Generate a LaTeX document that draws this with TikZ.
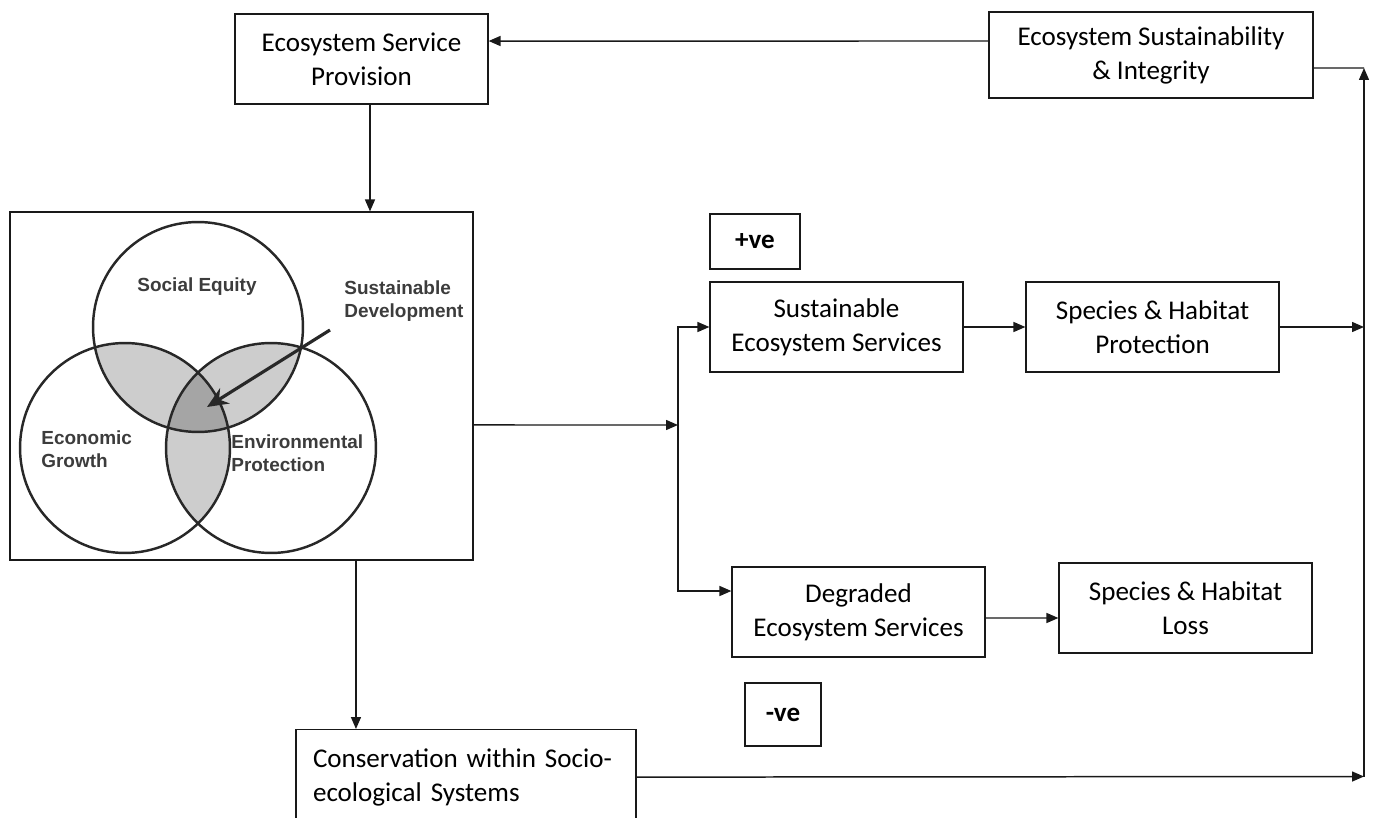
\documentclass[tikz,border=0pt]{standalone}
\usepackage{fontspec}
\setmainfont{Carlito}
\newfontfamily\vennfont{Liberation Sans}
\usetikzlibrary{positioning,arrows.meta,calc}
\definecolor{ink}{RGB}{25,25,25}
\definecolor{vennink}{RGB}{40,40,40}
\definecolor{lensgray}{RGB}{205,205,205}
\definecolor{coregray}{RGB}{165,165,165}
\definecolor{labelgray}{RGB}{60,60,60}

\begin{document}
\begin{tikzpicture}[x=0.02cm,y=-0.02cm,
  every node/.style={font=\fontsize{15.4}{19.3}\selectfont},
  block/.style={draw=ink,line width=0.7pt,fill=white,align=center,minimum width=5.06cm,minimum height=1.8cm,inner sep=0pt},
  signbox/.style={draw=ink,line width=0.7pt,inner sep=0pt,font=\fontsize{15.4}{19.3}\selectfont\bfseries},
  arrow/.style={-{Triangle[length=0.24cm,width=0.2cm]},line width=0.85pt,draw=ink},
  ring/.style={draw=vennink,line width=1.4pt},
  vennlabel/.style={font=\vennfont\bfseries\fontsize{10.8}{13}\selectfont,text=labelgray,align=left,inner sep=0pt}
]
\clip (0,0) rectangle (1374,818);

\node[block] (esp) at (361.5,59) {Ecosystem Service\\Provision};
\node[block,minimum width=6.48cm,minimum height=1.72cm] (esi) at (1151,55) {Ecosystem Sustainability\\\& Integrity};
\node[draw=ink,line width=0.7pt,minimum width=9.26cm,minimum height=6.96cm,inner sep=0pt] (venn) at (241.5,386) {};
\node[signbox,minimum width=1.8cm,minimum height=1.1cm] (pos) at (755,241.5) {+ve};
\node[block] (ses) at (836.5,327) {Sustainable\\Ecosystem Services};
\node[block] (shp) at (1152.5,327) {Species \& Habitat\\Protection};
\node[block] (des) at (858.5,612) {Degraded\\Ecosystem Services};
\node[block] (shl) at (1185.5,608) {Species \& Habitat\\Loss};
\node[signbox,minimum width=1.52cm,minimum height=1.26cm] (neg) at (783,714.5) {-ve};
\node[block,anchor=north,minimum width=6.8cm,minimum height=1.9cm,text width=6.12cm,align=left] (css) at (466,729) {Conservation within Socio-\\ecological Systems};

\coordinate (top) at (198,327);
\coordinate (left) at (125,448);
\coordinate (right) at (271,448);
\begin{scope}
  \clip (top) circle[radius=2.1cm];
  \fill[lensgray] (left) circle[radius=2.1cm];
  \fill[lensgray] (right) circle[radius=2.1cm];
\end{scope}
\begin{scope}
  \clip (left) circle[radius=2.1cm];
  \fill[lensgray] (right) circle[radius=2.1cm];
\end{scope}
\begin{scope}
  \clip (top) circle[radius=2.1cm];
  \clip (left) circle[radius=2.1cm];
  \fill[coregray] (right) circle[radius=2.1cm];
\end{scope}
\draw[ring] (top) circle[radius=2.1cm] (left) circle[radius=2.1cm] (right) circle[radius=2.1cm];
\node[vennlabel] (se) at (197,287) {Social Equity};
\node[vennlabel,anchor=west] (sd) at (344,301) {Sustainable\\Development};
\node[vennlabel,anchor=west] (eg) at (41,449) {Economic\\Growth};
\node[vennlabel,anchor=west] (ep) at (231,453) {Environmental\\Protection};
\coordinate (sdtail) at (330,330);
\coordinate (sdtip) at (207,407);
\draw[-{Stealth[length=0.42cm,width=0.36cm]},line width=1.8pt,draw=vennink] (sdtail) -- (sdtip);

\coordinate (split) at (678,425);
\coordinate (railtop) at (1364,68);
\coordinate (railbot) at (1364,776.5);
\coordinate (espdrop) at ([xshift=0.17cm]esp.south);
\coordinate (vennlow) at ([xshift=2.29cm]venn.south);

\draw[arrow] ([yshift=0.28cm]esi.west) -- ([yshift=0.36cm]esp.east);
\draw[arrow] (espdrop) -- (espdrop |- venn.north);
\draw[arrow] ([yshift=-0.78cm]venn.east) -- (split);
\draw[arrow] (split) |- (ses.west);
\draw[arrow] (split) |- ([yshift=0.42cm]des.west);
\draw[arrow] (ses) -- (shp);
\draw[arrow] (shp.east) -- (shp.east -| railbot);
\draw[arrow] ([yshift=-0.12cm]des.east) -- ([yshift=-0.2cm]shl.west);
\draw[arrow] (vennlow) -- (vennlow |- css.north);
\draw[arrow] (css.east) -- (railbot);
\draw[line width=0.85pt,draw=ink] ([yshift=-0.26cm]esi.east) -- (railtop);
\draw[arrow] (railbot) -- (railtop);
\end{tikzpicture}
\end{document}
